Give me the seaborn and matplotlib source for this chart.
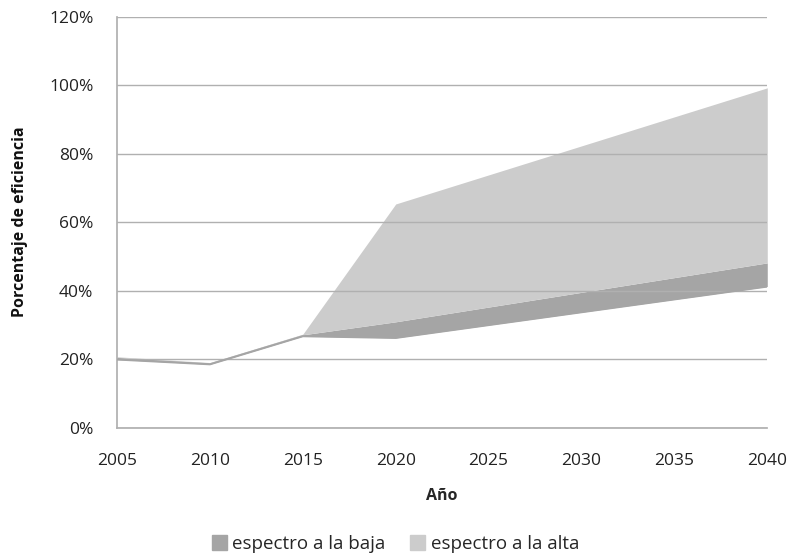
import numpy as np
import pandas as pd
import matplotlib
matplotlib.use("Agg")
import matplotlib.pyplot as plt
import seaborn as sns
from matplotlib.ticker import PercentFormatter
from matplotlib.patches import Patch

# data (percent)
years = [2005, 2010, 2015, 2020, 2040]
base_low = [20.0, 18.6, 26.8, 26.3, 41.3]      # lower edge (invisible base)
low_top = [20.6, 19.0, 27.2, 31.0, 48.2]       # top of "espectro a la baja"
high_top = [20.8, 19.1, 27.4, 65.4, 99.3]      # top of "espectro a la alta"

series_names = ["espectro a la baja", "espectro a la alta"]
colors = {"espectro a la baja": "#a5a5a5", "espectro a la alta": "#cccccc"}

df = pd.DataFrame({"Año": years, "base": base_low, "baja": low_top, "alta": high_top})

sns.set_theme(style="white")
plt.rcParams['font.family'] = ['Open Sans', 'DejaVu Sans']

fig = plt.figure(figsize=(7.91, 5.57), dpi=100)
ax = fig.add_axes([0.148, 0.2316, 0.822, 0.738])

ax.fill_between(df["Año"], df["base"], df["baja"], color=colors["espectro a la baja"], lw=0, zorder=2)
ax.fill_between(df["Año"], df["baja"], df["alta"], color=colors["espectro a la alta"], lw=0, zorder=2)
sns.lineplot(data=df, x="Año", y="base", color=colors["espectro a la baja"], lw=1.5, ax=ax, zorder=3)

ax.set_xlim(2005, 2040)
ax.set_ylim(0, 120)
ax.set_xticks(range(2005, 2041, 5))
ax.set_yticks(range(0, 121, 20))
ax.yaxis.set_major_formatter(PercentFormatter(decimals=0))
ax.grid(axis="y", color="#b0b0b0", lw=1)
ax.set_axisbelow(False)
ax.tick_params(axis="both", length=0, labelsize=12.5, colors="#222222")
ax.tick_params(axis="x", pad=18)
ax.tick_params(axis="y", pad=17)
for s in ["top", "right"]:
    ax.spines[s].set_visible(False)
ax.spines["left"].set_color("#b0b0b0")
ax.spines["bottom"].set_color("#b0b0b0")

ax.set_xlabel("Año", fontsize=11.5, fontweight="bold", labelpad=14)
ax.set_ylabel("")
fig.text(20 / 791, 1 - 222 / 557, "Porcentaje de eficiencia", rotation=90,
         ha="center", va="center", fontsize=11.5, fontweight="bold", color="#111111")

handles = [Patch(color=colors[n], label=n) for n in series_names]
fig.legend(handles=handles, loc="center", bbox_to_anchor=(0.5, 1 - 544 / 557), ncol=2,
           frameon=False, fontsize=13.5, handlelength=0.8, handleheight=0.8,
           handletextpad=0.3, columnspacing=1.3)

fig.savefig("out.png", dpi=100)
